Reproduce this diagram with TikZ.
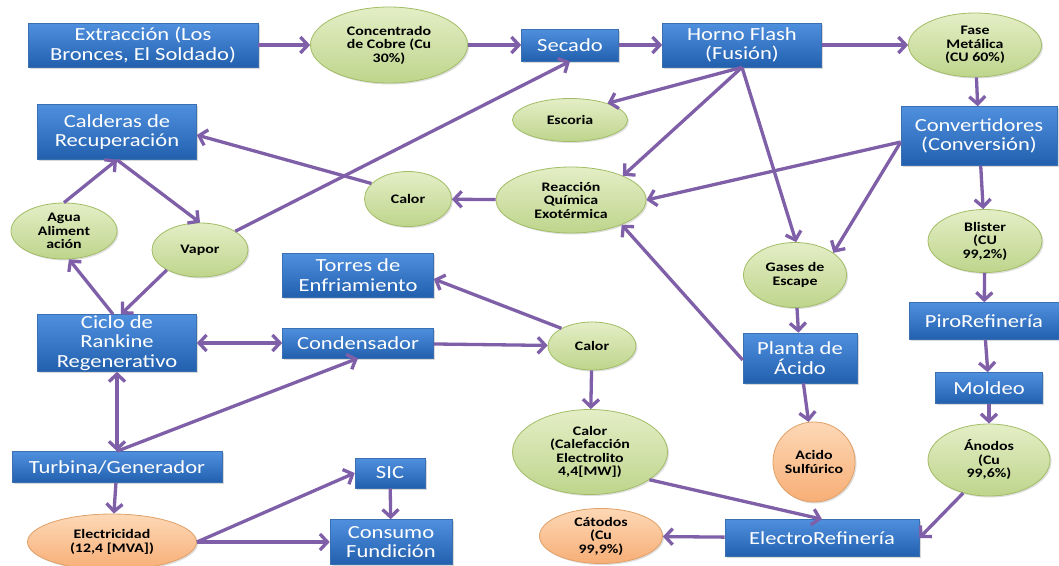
\documentclass[tikz,border=0pt]{standalone}
\usepackage{fontspec}
\setmainfont{Carlito}[FakeStretch=1.22]
\usetikzlibrary{arrows.meta,shadows,shapes.geometric}

\definecolor{boxtop}{HTML}{4F90DE}
\definecolor{boxbot}{HTML}{2260AE}
\definecolor{boxline}{HTML}{3A6FB2}
\definecolor{grtop}{HTML}{E4EEC6}
\definecolor{grbot}{HTML}{BED58C}
\definecolor{grline}{HTML}{A2BD66}
\definecolor{ortop}{HTML}{FDD8B6}
\definecolor{orbot}{HTML}{F7AE76}
\definecolor{orline}{HTML}{E0A068}
\definecolor{flowc}{HTML}{7E5FA8}

\tikzset{
  stage/.style={rectangle, top color=boxtop, bottom color=boxbot, draw=boxline,
    line width=0.6pt, text=white, align=center, inner sep=0pt,
    font=\fontsize{18.5}{19.5}\selectfont,
    drop shadow={shadow xshift=1.5pt, shadow yshift=-1.5pt, opacity=0.3}},
  product/.style={ellipse, top color=grtop, bottom color=grbot, draw=grline,
    line width=0.8pt, align=center, inner sep=0pt,
    font=\bfseries\fontsize{13}{13.5}\selectfont,
    drop shadow={shadow xshift=1.5pt, shadow yshift=-1.5pt, opacity=0.25}},
  output/.style={product, top color=ortop, bottom color=orbot, draw=orline},
  sz/.style 2 args={minimum width=#1pt, minimum height=#2pt},
  barb/.tip={Straight Barb[length=7.5pt,width=16pt]},
  flow/.style={draw=flowc, line width=3.3pt, -barb},
  flow2/.style={draw=flowc, line width=3.3pt, barb-barb}
}

\begin{document}
\begin{tikzpicture}[x=1pt,y=-1pt]
\useasboundingbox[fill=white] (0,0) rectangle (1059,565);

% process stages
\node[stage,sz={230}{44}] (ext) at (143,45) {Extracción (Los\\Bronces, El Soldado)};
\node[stage,sz={97}{32}] (sec) at (570,45) {Secado};
\node[stage,sz={159}{44}] (horno) at (742,45) {Horno Flash\\(Fusión)};
\node[stage,sz={159}{55}] (cald) at (117,132) {Calderas de\\Recuperación};
\node[stage,sz={156}{59}] (conv) at (979,136) {Convertidores\\(Conversión)};
\node[stage,sz={151}{44}] (torres) at (358,275) {Torres de\\Enfriamiento};
\node[stage,sz={159}{57}] (ciclo) at (117,343) {Ciclo de\\Rankine\\Regenerativo};
\node[stage,sz={151}{30}] (cond) at (358,343) {Condensador};
\node[stage,sz={150}{37}] (piro) at (984,321) {PiroRefinería};
\node[stage,sz={114}{50}] (planta) at (800,358) {Planta de\\Ácido};
\node[stage,sz={107}{31}] (moldeo) at (989,388) {Moldeo};
\node[stage,sz={210}{31}] (turb) at (117,467) {Turbina/Generador};
\node[stage,sz={70}{30}] (sic) at (390,473) {SIC};
\node[stage,sz={122}{45}] (consumo) at (391,542) {Consumo\\Fundición};
\node[stage,sz={194}{37}] (electro) at (822,538) {ElectroRefinería};

% intermediate products
\node[product,sz={157}{76}] (conc) at (389,45) {Concentrado\\de Cobre (Cu\\30\%)};
\node[product,sz={133}{64}] (fase) at (975,45) {Fase\\Metálica\\(CU 60\%)};
\node[product,sz={115}{43}] (esc) at (570,120) {Escoria};
\node[product,sz={150}{66}] (reac) at (571,200) {Reacción\\Química\\Exotérmica};
\node[product,sz={87}{55}] (calor1) at (408,199) {Calor};
\node[product,sz={106}{56}] (agua) at (64,231) {Agua\\Aliment\\ación};
\node[product,sz={96}{54}] (vapor) at (200,250) {Vapor};
\node[product,sz={114}{63}] (blister) at (985,241) {Blister\\(CU\\99,2\%)};
\node[product,sz={103}{65}] (gases) at (795,275) {Gases de\\Escape};
\node[product,sz={88}{48}] (calor2) at (592,346) {Calor};
\node[product,sz={155}{85}] (calor3) at (590,452) {Calor\\(Calefacción\\Electrolito\\4,4[MW])};
\node[product,sz={122}{72}] (anodos) at (989,460) {Ánodos\\(Cu\\99,6\%)};

% final outputs
\node[output,sz={82}{80}] (acido) at (814,462) {Acido\\Sulfúrico};
\node[output,sz={169}{56}] (elec) at (112,542) {Electricidad\\(12,4 [MVA])};
\node[output,sz={123}{55}] (catodos) at (601,536) {Cátodos\\(Cu\\99,9\%)};

% copper line
\draw[flow] (ext) -- (conc);
\draw[flow] (conc) -- (sec);
\draw[flow] (sec) -- (horno);
\draw[flow] (horno) -- (fase);
\draw[flow] (fase) -- (conv);
\draw[flow] (horno.south) -- (esc.24);
\draw[flow] (horno.south) -- (reac.25);
\draw[flow] (horno.south) -- (gases.88);
\draw[flow] ([yshift=-6pt]conv.west) -- (reac.east);
\draw[flow] ([yshift=-6pt]conv.west) -- (gases.30);
\draw[flow] (conv) -- (blister);
\draw[flow] (blister) -- (piro);
\draw[flow] (piro) -- (moldeo);
\draw[flow] (moldeo) -- (anodos);
\draw[flow] (anodos.232) -- (electro.east);
\draw[flow] (electro) -- (catodos);
\draw[flow] (calor3.335) -- (electro.north);
\draw[flow] (gases) -- (planta);
\draw[flow] (planta) -- (acido);
\draw[flow] ([yshift=-2pt]planta.west) -- (reac.-26);

% heat recovery and power cycle
\draw[flow] (reac) -- (calor1);
\draw[flow] (calor1.157) -- ([yshift=-3pt]cald.east);
\draw[flow] (cald.south) -- (vapor.north);
\draw[flow] (agua.north) -- (cald.south);
\draw[flow] (vapor.211) -- ([xshift=4pt]ciclo.north);
\draw[flow] ([xshift=-4pt]ciclo.north) -- (agua.-80);
\draw[flow] (vapor.28) -- (sec.south);
\draw[flow2] (ciclo) -- (cond);
\draw[flow2] (ciclo) -- (turb);
\draw[flow] (turb.north) -- (cond.south);
\draw[flow] (cond) -- (calor2);
\draw[flow] (calor2.150) -- ([yshift=-4pt]torres.east);
\draw[flow] (calor2) -- (calor3);
\draw[flow] (turb) -- (elec);
\draw[flow] (elec.east) -- (sic.west);
\draw[flow] (elec.east) -- (consumo.west);
\draw[flow] (sic) -- (consumo);
\end{tikzpicture}
\end{document}
